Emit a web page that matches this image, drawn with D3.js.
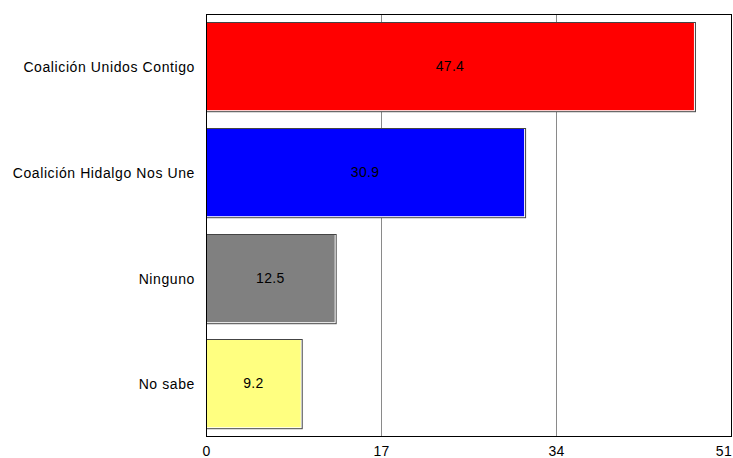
<!DOCTYPE html>
<html><head><meta charset="utf-8">
<script src="https://cdn.jsdelivr.net/npm/d3@7"></script>
<style>body{margin:0;background:#fff;} svg{display:block;} text{font-family:"Liberation Sans",Arial,sans-serif;}</style>
</head><body>
<svg id="c" width="733" height="458"></svg>
<script>
const categories = ["Coalición Unidos Contigo","Coalición Hidalgo Nos Une","Ninguno","No sabe"];
const values = [47.4, 30.9, 12.5, 9.2];
const colors = ["#ff0000","#0000ff","#808080","#ffff80"];
const tickValues = [0, 17, 34, 51];

const svg = d3.select("#c");
const m = {l:206, t:14, r:731, b:436};
const x = d3.scaleLinear().domain([0,51]).range([m.l, m.r]);
const y = d3.scaleBand().domain(categories).range([m.t, m.b]).paddingInner(0.165).paddingOuter(0.08);

// gridlines
svg.append("g").selectAll("line").data(tickValues.filter(d=>d>0&&d<51)).join("line")
  .attr("x1",d=>x(d)+0.5).attr("x2",d=>x(d)+0.5).attr("y1",m.t).attr("y2",m.b)
  .attr("stroke","#8a8a8a").attr("stroke-width",1);

// bars
const g = svg.append("g").selectAll("g").data(categories).join("g");
g.append("rect").attr("x",m.l).attr("y",d=>Math.round(y(d)))
  .attr("width",(d,i)=>x(values[i])-m.l+2).attr("height",y.bandwidth()+2).attr("fill","#444");
g.append("rect").attr("x",m.l).attr("y",d=>Math.round(y(d))+1)
  .attr("width",(d,i)=>x(values[i])-m.l+1).attr("height",y.bandwidth()).attr("fill","#fff");
g.append("rect").attr("x",m.l).attr("y",d=>Math.round(y(d))+1)
  .attr("width",(d,i)=>x(values[i])-m.l).attr("height",y.bandwidth()-1).attr("fill",(d,i)=>colors[i]);
g.append("text").attr("x",(d,i)=>(m.l+x(values[i]))/2).attr("y",d=>y(d)+y.bandwidth()/2+1)
  .attr("text-anchor","middle").attr("dominant-baseline","middle")
  .attr("font-size","14px").attr("letter-spacing","0.3px").attr("fill","#000").text((d,i)=>values[i].toFixed(1));

// frame
svg.append("rect").attr("x",m.l+0.5).attr("y",m.t+0.5).attr("width",m.r-m.l).attr("height",m.b-m.t)
  .attr("fill","none").attr("stroke","#000").attr("stroke-width",1);

// category labels
svg.append("g").selectAll("text").data(categories).join("text")
  .attr("x",195).attr("y",d=>y(d)+y.bandwidth()/2+2)
  .attr("text-anchor","end").attr("dominant-baseline","middle")
  .attr("font-size","14px").attr("letter-spacing","0.6px").attr("fill","#000").text(d=>d);

// x tick labels
svg.append("g").selectAll("text").data(tickValues).join("text")
  .attr("x",(d,i)=>i===tickValues.length-1 ? 732 : x(d)+0.5).attr("y",456)
  .attr("text-anchor",(d,i)=>i===tickValues.length-1 ? "end" : "middle")
  .attr("font-size","14px").attr("letter-spacing","0.3px").attr("fill","#000").text(d=>d);
</script>
</body></html>
